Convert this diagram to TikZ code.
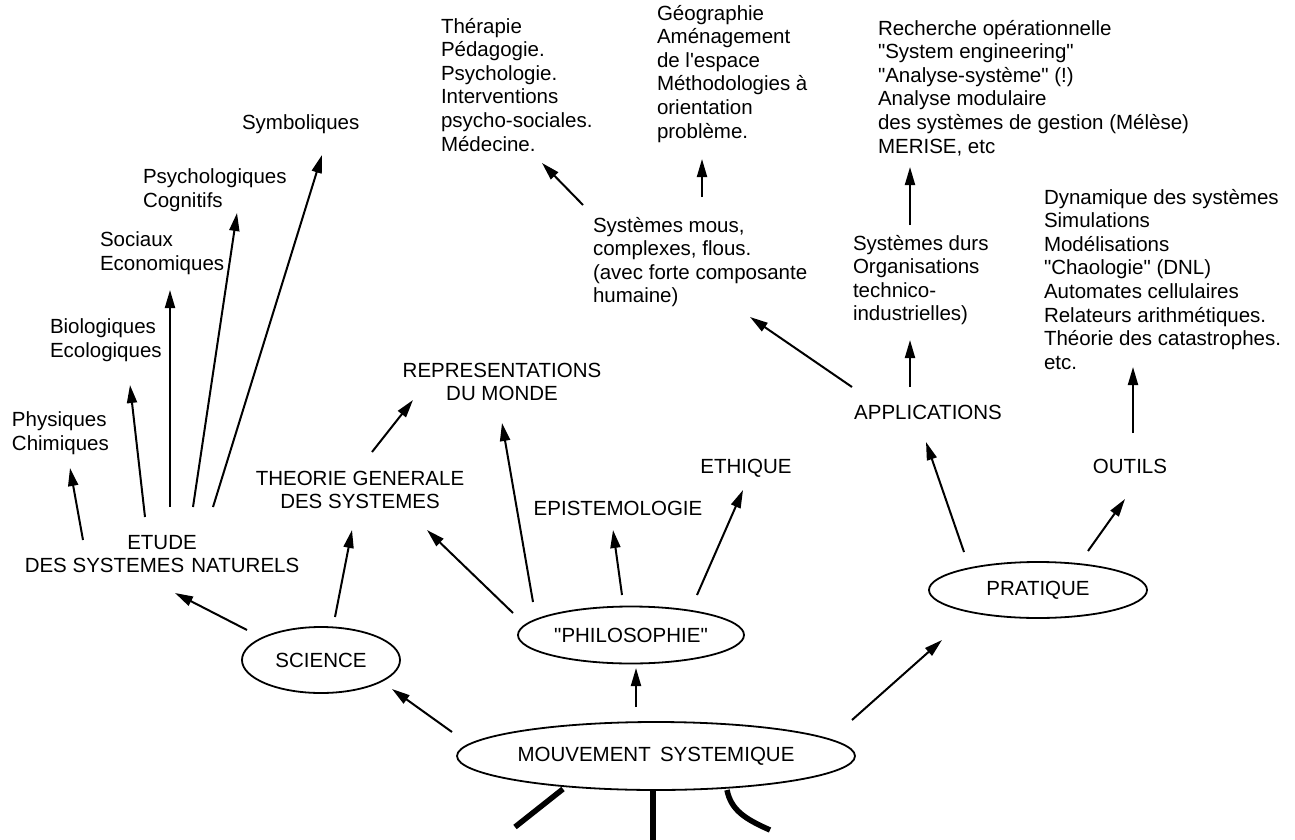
\documentclass[tikz,border=0pt]{standalone}
\usepackage{fontspec}
\setmainfont{Liberation Sans}[Ligatures=TeXOff]
\usetikzlibrary{arrows.meta,shapes.geometric}
\begin{document}
\begin{tikzpicture}[x=1pt,y=-1pt,
  every node/.style={font=\fontsize{20.5}{23.6}\selectfont, inner sep=0pt, outer sep=0pt},
  lst/.style={anchor=north west, align=left},
  ctr/.style={align=center},
  oval/.style={draw, ellipse, line width=1.8pt},
  arr/.style={-{Triangle[length=18pt,width=10pt]}, line width=2pt},
  root/.style={line width=5.5pt}
]
\useasboundingbox (0,0) rectangle (1295,840);

% ---- ovals
\node[oval, minimum width=158pt, minimum height=66pt] (science) at (321,660) {SCIENCE};
\node[oval, minimum width=226pt, minimum height=57pt] (philo) at (631,635) {"PHILOSOPHIE"};
\node[oval, minimum width=398pt, minimum height=68pt] (mouv) at (656,756) {MOUVEMENT\hspace{0.45em}SYSTEMIQUE};
\node[oval, minimum width=218pt, minimum height=56pt] (prat) at (1038,590) {PRATIQUE};

% ---- centred labels
\node[ctr] (etude) at (162,554) {ETUDE\\DES SYSTEMES\hspace{0.35em}NATURELS};
\node[ctr] (theorie) at (360,490) {THEORIE GENERALE\\DES SYSTEMES};
\node[ctr] (repr) at (502,382) {REPRESENTATIONS\\DU MONDE};
\node (epis) at (618,508) {EPISTEMOLOGIE};
\node (ethique) at (746,468) {ETHIQUE};
\node (appl) at (928,412) {APPLICATIONS};
\node (outils) at (1130,466) {OUTILS};

% ---- lists
\node[lst] (sym) at (242,115) {Symboliques};
\node[lst] (psy) at (143,169) {Psychologiques\\Cognitifs};
\node[lst] (soc) at (100,232) {Sociaux\\Economiques};
\node[lst] (bio) at (50,319) {Biologiques\\Ecologiques};
\node[lst] (phy) at (12,412) {Physiques\\Chimiques};
\node[lst] (ther) at (441,18) {Thérapie\\Pédagogie.\\Psychologie.\\Interventions\\psycho-sociales.\\Médecine.};
\node[lst] (geo) at (657,5) {Géographie\\Aménagement\\de l'espace\\Méthodologies à\\orientation\\problème.};
\node[lst] (rech) at (878,20) {Recherche opérationnelle\\"System engineering"\\"Analyse-système" (!)\\Analyse modulaire\\des systèmes de gestion (Mélèse)\\MERISE, etc};
\node[lst] (mous) at (593,217) {Systèmes mous,\\complexes, flous.\\(avec forte composante\\humaine)};
\node[lst] (durs) at (853,235) {Systèmes durs\\Organisations\\technico-\\industrielles)};
\node[lst] (dyn) at (1044,189) {Dynamique des systèmes\\Simulations\\Modélisations\\"Chaologie" (DNL)\\Automates cellulaires\\Relateurs arithmétiques.\\Théorie des catastrophes.\\etc.};

% ---- arrow end points
\coordinate (e1) at (83,540);   \coordinate (t1) at (70,468);
\coordinate (e2) at (145,517);  \coordinate (t2) at (130,385);
\coordinate (e3) at (170,507);  \coordinate (t3) at (170,290);
\coordinate (e4) at (193,507);  \coordinate (t4) at (237,213);
\coordinate (e5) at (213,507);  \coordinate (t5) at (322,155);
\coordinate (s1) at (247,630);  \coordinate (s1t) at (175,593);
\coordinate (s2) at (335,617);  \coordinate (s2t) at (352,530);
\coordinate (m1) at (452,732);  \coordinate (m1t) at (392,689);
\coordinate (m2) at (636,707);  \coordinate (m2t) at (636,668);
\coordinate (m3) at (852,720);  \coordinate (m3t) at (942,640);
\coordinate (p1) at (513,613);  \coordinate (p1t) at (427,530);
\coordinate (p2) at (533,602);  \coordinate (p2t) at (502,423);
\coordinate (p3) at (622,595);  \coordinate (p3t) at (613,530);
\coordinate (p4) at (697,595);  \coordinate (p4t) at (743,490);
\coordinate (g1) at (372,452);  \coordinate (g1t) at (413,400);
\coordinate (r1) at (964,552);  \coordinate (r1t) at (926,442);
\coordinate (r2) at (1088,551); \coordinate (r2t) at (1125,499);
\coordinate (o1) at (1133,433); \coordinate (o1t) at (1133,367);
\coordinate (ap1) at (910,387); \coordinate (ap1t) at (910,340);
\coordinate (ap2) at (852,387); \coordinate (ap2t) at (750,317);
\coordinate (d1) at (910,225);  \coordinate (d1t) at (910,167);
\coordinate (ms1) at (583,205); \coordinate (ms1t) at (542,163);
\coordinate (ms2) at (702,197); \coordinate (ms2t) at (702,159);

% ---- arrows
\draw[arr] (e1) -- (t1);
\draw[arr] (e2) -- (t2);
\draw[arr] (e3) -- (t3);
\draw[arr] (e4) -- (t4);
\draw[arr] (e5) -- (t5);
\draw[arr] (s1) -- (s1t);
\draw[arr] (s2) -- (s2t);
\draw[arr] (m1) -- (m1t);
\draw[arr] (m2) -- (m2t);
\draw[arr] (m3) -- (m3t);
\draw[arr] (p1) -- (p1t);
\draw[arr] (p2) -- (p2t);
\draw[arr] (p3) -- (p3t);
\draw[arr] (p4) -- (p4t);
\draw[arr] (g1) -- (g1t);
\draw[arr] (r1) -- (r1t);
\draw[arr] (r2) -- (r2t);
\draw[arr] (o1) -- (o1t);
\draw[arr] (ap1) -- (ap1t);
\draw[arr] (ap2) -- (ap2t);
\draw[arr] (d1) -- (d1t);
\draw[arr] (ms1) -- (ms1t);
\draw[arr] (ms2) -- (ms2t);

% ---- roots under the main oval
\coordinate (b1) at (563,789); \coordinate (b1e) at (515,827);
\coordinate (b2) at (653,790); \coordinate (b2e) at (653,840);
\coordinate (b3) at (727,790); \coordinate (b3e) at (770,830);
\draw[root] (b1) -- (b1e);
\draw[root] (b2) -- (b2e);
\draw[root] (b3) .. controls (731,810) and (745,819) .. (b3e);
\end{tikzpicture}
\end{document}
